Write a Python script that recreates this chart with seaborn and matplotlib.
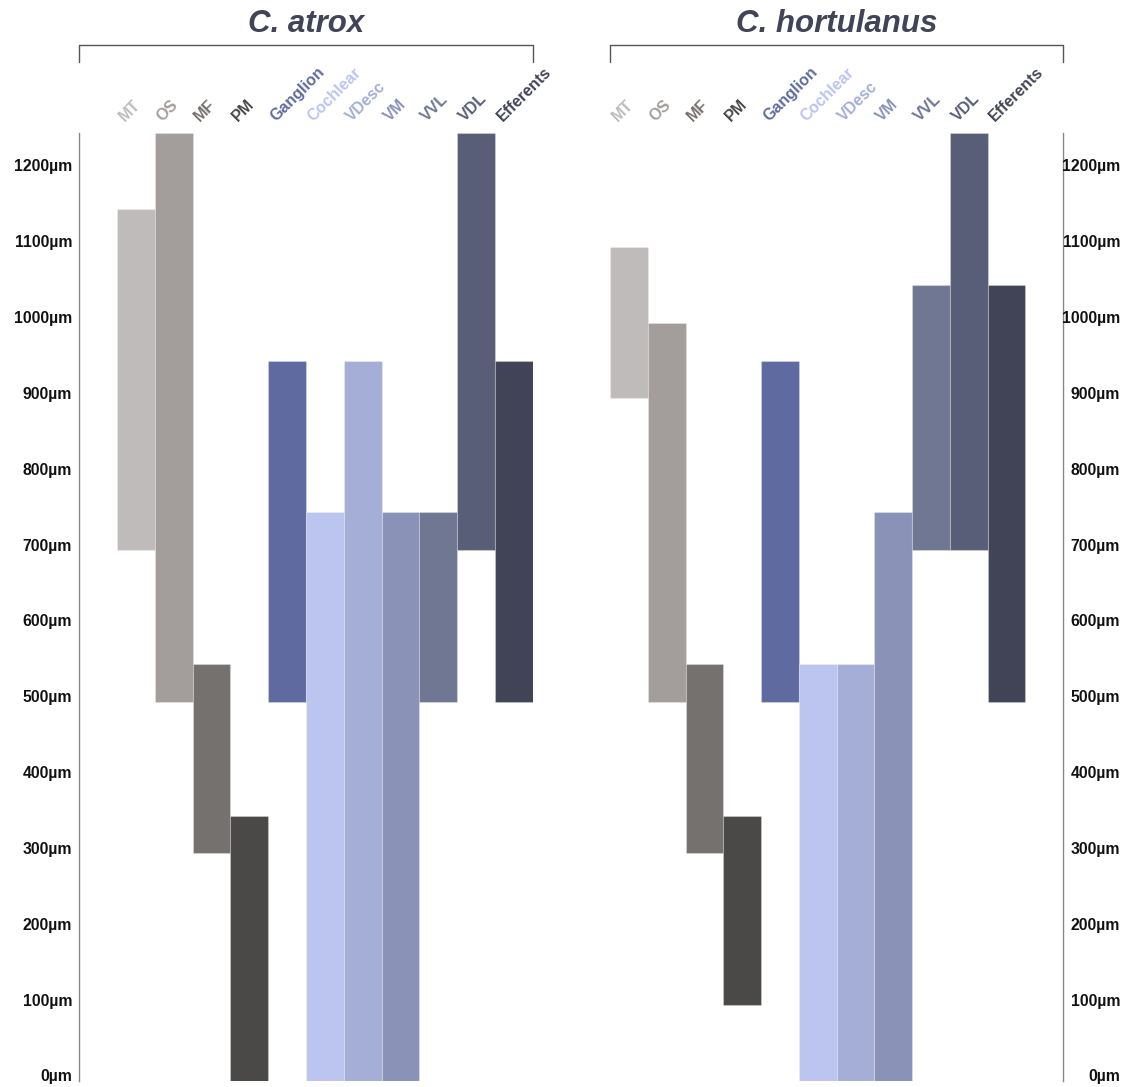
import matplotlib
matplotlib.use("Agg")
import matplotlib.pyplot as plt
import matplotlib.transforms as mtransforms
from matplotlib.lines import Line2D
import seaborn as sns
import pandas as pd

# ---- data ----
categories = ["MT", "OS", "MF", "PM", "Ganglion", "Cochlear", "VDesc",
              "VM", "VVL", "VDL", "Efferents"]
colors = ["#c0bbbb", "#a39d9c", "#75716f", "#4a4947", "#5f6ba0", "#bcc4f0",
          "#a5aed6", "#8a93b7", "#707793", "#585d78", "#414457"]

atrox_start = [700, 500, 300, 0, 500, 0, 0, 0, 500, 700, 500]
atrox_end = [1150, 1250, 550, 350, 950, 750, 950, 750, 750, 1250, 950]

hort_start = [900, 500, 300, 100, 500, 0, 0, 0, 700, 700, 500]
hort_end = [1100, 1000, 550, 350, 950, 550, 550, 750, 1050, 1250, 1050]

titles = ["C. atrox", "C. hortulanus"]
yticks = [0, 100, 200, 300, 400, 500, 600, 700, 800, 900, 1000, 1100, 1200]
ytick_labels = [f"{v}µm" for v in yticks]

# ---- style ----
sns.set_theme(style="white")
plt.rcParams['font.family'] = ['Liberation Sans', 'DejaVu Sans']

W, H = 1127, 1087
fig = plt.figure(figsize=(W / 100, H / 100), dpi=100)
ax1 = fig.add_axes([79 / W, 6 / H, 454 / W, 948 / H])
ax2 = fig.add_axes([610 / W, 6 / H, 453 / W, 948 / H])

TITLE_COLOR = "#414457"
SPINE_COLOR = "#888888"


def draw_panel(ax, title, start, end, xlim, side):
    df = pd.DataFrame({"cat": categories, "end": end})
    sns.barplot(data=df, x="cat", y="end", order=categories, hue="cat",
                hue_order=categories, palette=colors, legend=False,
                width=1.0, saturation=1, ax=ax,
                edgecolor=(1, 1, 1, 0.25), linewidth=0.8)
    for p, s, e in zip(ax.patches, start, end):
        p.set_y(s)
        p.set_height(e - s)
    ax.set_xlim(*xlim)
    ax.set_ylim(0, 1250)
    ax.set_xticks([])
    ax.set_yticks([])
    ax.set_xlabel("")
    ax.set_ylabel("")
    for sp in ax.spines.values():
        sp.set_visible(False)
    ax.spines[side].set_visible(True)
    ax.spines[side].set_color(SPINE_COLOR)
    ax.spines[side].set_linewidth(1.0)

    # category labels (rotated, coloured like the bars)
    lab_tr = mtransforms.offset_copy(
        mtransforms.blended_transform_factory(ax.transData, ax.transAxes),
        fig=fig, x=-9, y=9, units='dots')
    for i, (c, col) in enumerate(zip(categories, colors)):
        ax.text(i, 1.0, c, transform=lab_tr, rotation=45,
                rotation_mode='anchor', ha='left', va='bottom',
                fontsize=11.5, fontweight='bold', color=col)

    # y tick labels
    if side == "left":
        ytr = mtransforms.offset_copy(
            mtransforms.blended_transform_factory(ax.transAxes, ax.transData),
            fig=fig, x=-7, y=4, units='dots')
        xpos = 0.0
    else:
        ytr = mtransforms.offset_copy(
            mtransforms.blended_transform_factory(ax.transAxes, ax.transData),
            fig=fig, x=57, y=4, units='dots')
        xpos = 1.0
    for v, lab in zip(yticks, ytick_labels):
        ax.text(xpos, v, lab, transform=ytr, ha='right', va='center',
                fontsize=11.3, fontweight='bold', color="#111111")

    # bracket + title
    axh = 948
    yb = 1 + (133 - 45) / axh
    ye = 1 + (133 - 62) / axh
    ax.add_line(Line2D([0, 0, 1, 1], [ye, yb, yb, ye], transform=ax.transAxes,
                       color="#555555", lw=1.0, clip_on=False))
    ax.text(0.5, 1 + (133 - 24) / axh, title, transform=ax.transAxes,
            ha='center', va='center', fontsize=22.5, fontweight='bold',
            fontstyle='italic', color=TITLE_COLOR)


draw_panel(ax1, titles[0], atrox_start, atrox_end, (-1.5, 10.5), "left")
draw_panel(ax2, titles[1], hort_start, hort_end, (-0.5, 11.5), "right")

fig.savefig("out.png", dpi=100)
